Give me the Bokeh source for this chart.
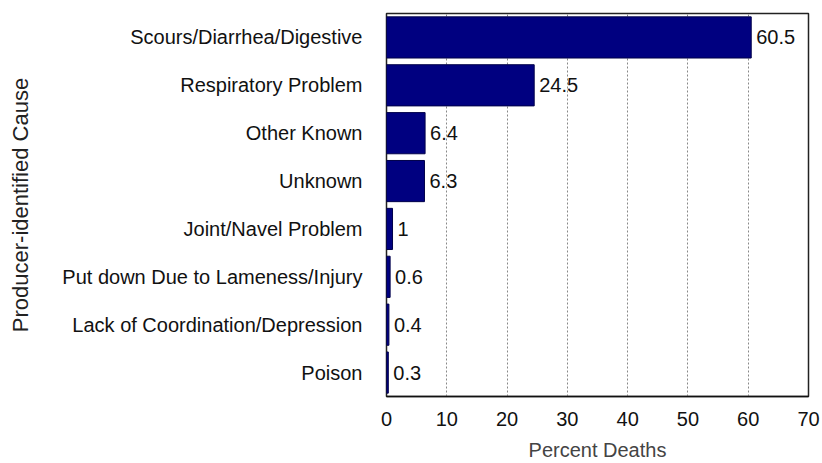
from bokeh.plotting import figure
from bokeh.models import FactorRange, Range1d, FixedTicker, ColumnDataSource
from bokeh.core.properties import value
from bokeh.embed import file_html
from bokeh.resources import INLINE

causes = ["Scours/Diarrhea/Digestive", "Respiratory Problem", "Other Known", "Unknown",
          "Joint/Navel Problem", "Put down Due to Lameness/Injury",
          "Lack of Coordination/Depression", "Poison"]
percents = [60.5, 24.5, 6.4, 6.3, 1, 0.6, 0.4, 0.3]
labels = ["60.5", "24.5", "6.4", "6.3", "1", "0.6", "0.4", "0.3"]
x_ticks = [0, 10, 20, 30, 40, 50, 60, 70]

src = ColumnDataSource(dict(cause=causes, pct=percents, lab=labels))

p = figure(width=822, height=463, output_backend="svg", toolbar_location=None,
           y_range=FactorRange(factors=list(reversed(causes)), range_padding=0),
           x_range=Range1d(0, 70),
           min_border_left=386, min_border_right=14, min_border_top=13, min_border_bottom=62)

p.hbar(y="cause", right="pct", height=0.86, left=0, source=src,
       fill_color="#000080", line_color="#00004a", line_width=1)
p.text(x="pct", y="cause", text="lab", source=src, x_offset=5,
       text_baseline="middle", text_align="left",
       text_font=value("Liberation Sans"), text_font_size="20px", text_color="#111111")

p.outline_line_color="#222222"
p.outline_line_width=1.5
p.ygrid.grid_line_color=None
p.xgrid.ticker = FixedTicker(ticks=x_ticks)
p.xgrid.grid_line_color="#888888"
p.xgrid.grid_line_dash="2 2"
p.xgrid.grid_line_width=1

xa = p.xaxis[0]
xa.ticker = FixedTicker(ticks=x_ticks)
xa.axis_line_color="#111111"
xa.axis_line_width=1.5
xa.major_tick_line_color=None
xa.minor_tick_line_color=None
xa.major_label_text_font="Liberation Sans"
xa.major_label_text_font_size="20px"
xa.major_label_text_color="#111111"
xa.major_label_standoff=9
xa.axis_label="Percent Deaths"
xa.axis_label_text_font="Liberation Sans"
xa.axis_label_text_font_style="normal"
xa.axis_label_text_font_size="20px"
xa.axis_label_text_color="#444444"
xa.axis_label_standoff=10

ya = p.yaxis[0]
ya.axis_line_color=None
ya.major_tick_line_color=None
ya.minor_tick_line_color=None
ya.major_label_text_font="Liberation Sans"
ya.major_label_text_font_size="20px"
ya.major_label_text_color="#111111"
ya.major_label_standoff=18
ya.axis_label="Producer-identified Cause"
ya.axis_label_text_font="Liberation Sans"
ya.axis_label_text_font_style="normal"
ya.axis_label_text_font_size="22px"
ya.axis_label_text_color="#222222"
ya.axis_label_standoff=26

open("out.html", "w").write(file_html(p, INLINE))
